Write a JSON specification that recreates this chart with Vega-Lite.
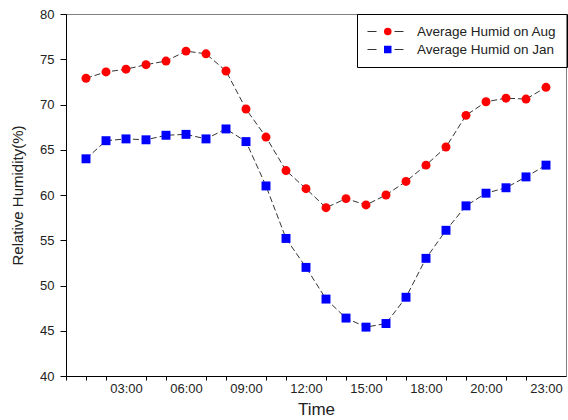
{
  "$schema": "https://vega.github.io/schema/vega-lite/v6.json",
  "width": 500,
  "height": 362,
  "autosize": {"type": "none"},
  "padding": {"left": 66, "top": 14, "right": 2, "bottom": 44},
  "config": {
    "font": "Liberation Sans",
    "view": {"stroke": "#808080", "strokeWidth": 1},
    "axis": {
      "grid": false,
      "domainColor": "black",
      "tickColor": "black",
      "labelFont": "Liberation Sans",
      "labelFontSize": 13,
      "labelColor": "#222",
      "titleFont": "Liberation Sans",
      "titleFontWeight": "normal",
      "titleColor": "#222"
    }
  },
  "data": {
    "values": [
      {"hour": 1, "value": 72.9, "series": "Average Humid on Aug"},
      {"hour": 2, "value": 73.6, "series": "Average Humid on Aug"},
      {"hour": 3, "value": 73.9, "series": "Average Humid on Aug"},
      {"hour": 4, "value": 74.4, "series": "Average Humid on Aug"},
      {"hour": 5, "value": 74.8, "series": "Average Humid on Aug"},
      {"hour": 6, "value": 75.9, "series": "Average Humid on Aug"},
      {"hour": 7, "value": 75.6, "series": "Average Humid on Aug"},
      {"hour": 8, "value": 73.7, "series": "Average Humid on Aug"},
      {"hour": 9, "value": 69.5, "series": "Average Humid on Aug"},
      {"hour": 10, "value": 66.4, "series": "Average Humid on Aug"},
      {"hour": 11, "value": 62.7, "series": "Average Humid on Aug"},
      {"hour": 12, "value": 60.7, "series": "Average Humid on Aug"},
      {"hour": 13, "value": 58.6, "series": "Average Humid on Aug"},
      {"hour": 14, "value": 59.6, "series": "Average Humid on Aug"},
      {"hour": 15, "value": 58.9, "series": "Average Humid on Aug"},
      {"hour": 16, "value": 60.0, "series": "Average Humid on Aug"},
      {"hour": 17, "value": 61.5, "series": "Average Humid on Aug"},
      {"hour": 18, "value": 63.3, "series": "Average Humid on Aug"},
      {"hour": 19, "value": 65.3, "series": "Average Humid on Aug"},
      {"hour": 20, "value": 68.8, "series": "Average Humid on Aug"},
      {"hour": 21, "value": 70.3, "series": "Average Humid on Aug"},
      {"hour": 22, "value": 70.7, "series": "Average Humid on Aug"},
      {"hour": 23, "value": 70.6, "series": "Average Humid on Aug"},
      {"hour": 24, "value": 71.9, "series": "Average Humid on Aug"},
      {"hour": 1, "value": 64.0, "series": "Average Humid on Jan"},
      {"hour": 2, "value": 66.0, "series": "Average Humid on Jan"},
      {"hour": 3, "value": 66.2, "series": "Average Humid on Jan"},
      {"hour": 4, "value": 66.1, "series": "Average Humid on Jan"},
      {"hour": 5, "value": 66.6, "series": "Average Humid on Jan"},
      {"hour": 6, "value": 66.7, "series": "Average Humid on Jan"},
      {"hour": 7, "value": 66.2, "series": "Average Humid on Jan"},
      {"hour": 8, "value": 67.3, "series": "Average Humid on Jan"},
      {"hour": 9, "value": 65.9, "series": "Average Humid on Jan"},
      {"hour": 10, "value": 61.0, "series": "Average Humid on Jan"},
      {"hour": 11, "value": 55.2, "series": "Average Humid on Jan"},
      {"hour": 12, "value": 52.0, "series": "Average Humid on Jan"},
      {"hour": 13, "value": 48.5, "series": "Average Humid on Jan"},
      {"hour": 14, "value": 46.4, "series": "Average Humid on Jan"},
      {"hour": 15, "value": 45.4, "series": "Average Humid on Jan"},
      {"hour": 16, "value": 45.8, "series": "Average Humid on Jan"},
      {"hour": 17, "value": 48.7, "series": "Average Humid on Jan"},
      {"hour": 18, "value": 53.0, "series": "Average Humid on Jan"},
      {"hour": 19, "value": 56.1, "series": "Average Humid on Jan"},
      {"hour": 20, "value": 58.8, "series": "Average Humid on Jan"},
      {"hour": 21, "value": 60.2, "series": "Average Humid on Jan"},
      {"hour": 22, "value": 60.8, "series": "Average Humid on Jan"},
      {"hour": 23, "value": 62.0, "series": "Average Humid on Jan"},
      {"hour": 24, "value": 63.3, "series": "Average Humid on Jan"}
    ]
  },
  "encoding": {
    "x": {
      "field": "hour",
      "type": "quantitative",
      "scale": {"domain": [0, 25], "nice": false, "zero": false},
      "axis": {
        "title": "Time",
        "titleFontSize": 17,
        "titlePadding": 6,
        "values": [0,1,2,3,4,5,6,7,8,9,10,11,12,13,14,15,16,17,18,19,20,21,22,23,24],
        "labelExpr": "datum.value == 3 ? '03:00' : datum.value == 6 ? '06:00' : datum.value == 9 ? '09:00' : datum.value == 12 ? '12:00' : datum.value == 15 ? '15:00' : datum.value == 18 ? '18:00' : datum.value == 21 ? '20:00' : datum.value == 24 ? '23:00' : ''",
        "labelOverlap": false,
        "labelFlush": false,
        "labelPadding": 2,
        "tickSize": 4,
        "tickColor": {"condition": {"test": "datum.value % 3 == 0 && datum.value > 0", "value": "transparent"}, "value": "black"}
      }
    },
    "y": {
      "field": "value",
      "type": "quantitative",
      "scale": {"domain": [40, 80], "nice": false, "zero": false},
      "axis": {
        "title": "Relative Humidity(%)",
        "titleFontSize": 15,
        "titlePadding": 14,
        "values": [40, 45, 50, 55, 60, 65, 70, 75, 80],
        "tickSize": 6,
        "labelPadding": 6
      }
    }
  },
  "layer": [
    {
      "mark": {"type": "line", "strokeDash": [6, 3], "strokeWidth": 1},
      "encoding": {
        "stroke": {
          "field": "series",
          "type": "nominal",
          "scale": {"domain": ["Average Humid on Aug", "Average Humid on Jan"], "range": ["#333333", "#333333"]},
          "legend": {
            "orient": "none",
            "legendX": 291,
            "legendY": 0,
            "title": null,
            "symbolType": "M-1,0H-0.5M0.5,0H1",
            "symbolSize": 1296,
            "symbolStrokeWidth": 1,
            "symbolStrokeColor": "#333333",
            "padding": 10,
            "strokeColor": "black",
            "clipHeight": 15,
            "rowPadding": 3,
            "labelFont": "Liberation Sans",
            "labelFontSize": 13.5,
            "labelOffset": 13,
            "labelColor": "#222",
            "labelLimit": 300
          }
        }
      }
    },
    {
      "mark": {"type": "point", "filled": true, "size": 80, "opacity": 1, "strokeWidth": 0},
      "encoding": {
        "fill": {
          "field": "series",
          "type": "nominal",
          "scale": {"range": ["#ff0000", "#0000ff"]},
          "legend": {
            "orient": "none",
            "legendX": 305,
            "legendY": 0,
            "title": null,
            "symbolSize": 56,
            "symbolStrokeWidth": 0,
            "padding": 10,
            "clipHeight": 15,
            "rowPadding": 3,
            "labelFontSize": 13.5,
            "labelExpr": "''",
            "symbolOffset": 0,
            "strokeColor": "transparent"
          }
        },
        "shape": {
          "field": "series",
          "type": "nominal",
          "scale": {"range": ["circle", "square"]},
          "legend": {
            "orient": "none",
            "legendX": 305,
            "legendY": 0,
            "title": null,
            "symbolSize": 56,
            "symbolStrokeWidth": 0,
            "padding": 10,
            "clipHeight": 15,
            "rowPadding": 3,
            "labelFontSize": 13.5,
            "labelExpr": "''",
            "symbolOffset": 0,
            "strokeColor": "transparent"
          }
        }
      }
    }
  ]
}
